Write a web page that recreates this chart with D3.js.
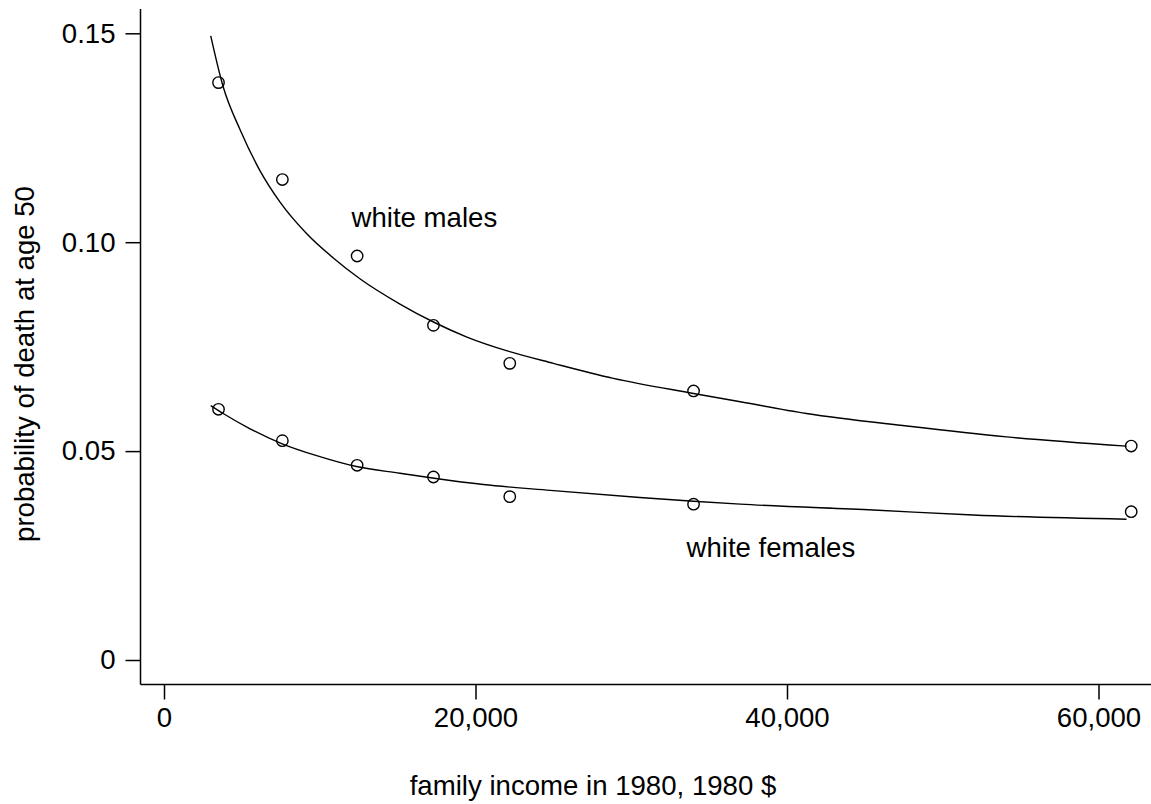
<!DOCTYPE html>
<html>
<head>
<meta charset="utf-8">
<script src="https://cdn.jsdelivr.net/npm/d3@7"></script>
<style>
  body { margin: 0; background: #fff; }
  text { font-family: "Liberation Sans", Arial, sans-serif; fill: #000; }
</style>
</head>
<body>
<div id="chart"></div>
<script>
// observed points (income group, probability of death at 50)
const income = [3500, 7600, 12400, 17300, 22200, 34000, 62100];
const males = [0.1382, 0.1150, 0.0967, 0.0801, 0.0710, 0.0644, 0.0512];
const females = [0.0600, 0.0525, 0.0466, 0.0438, 0.0391, 0.0373, 0.0355];

// fitted curves
const maleFitX = [3000, 3800, 4900, 6150, 7450, 9150, 10850, 12600, 15150, 17300, 19450, 22200, 25000, 28850, 34000, 37000, 41250, 47700, 54100, 61800];
const maleFitY = [0.1494, 0.1372, 0.1268, 0.1172, 0.1096, 0.1021, 0.0963, 0.0912, 0.0852, 0.0809, 0.0773, 0.0738, 0.0710, 0.0674, 0.0638, 0.0618, 0.0590, 0.0560, 0.0534, 0.0512];
const femaleFitX = [3000, 3800, 5500, 7550, 9800, 12350, 15150, 17350, 20500, 24800, 30550, 34000, 37000, 45550, 51950, 61800];
const femaleFitY = [0.0609, 0.0590, 0.0554, 0.0518, 0.0489, 0.0463, 0.0447, 0.0435, 0.0420, 0.0406, 0.0389, 0.0380, 0.0373, 0.0359, 0.0347, 0.0337];

const xTicks = [0, 20000, 40000, 60000];
const yTicks = [0, 0.05, 0.10, 0.15];

const W = 1151, H = 804;
const svg = d3.select("#chart").append("svg")
  .attr("width", W)
  .attr("height", H);

const x = d3.scaleLinear().domain([0, 60000]).range([164, 1098.5]);
const y = d3.scaleLinear().domain([0, 0.15]).range([660, 33.3]);

const axisLeftX = 140.5, axisBottomY = 684.5;
const fs = 27.6;

// axis frame lines
svg.append("line")
  .attr("x1", axisLeftX).attr("x2", axisLeftX)
  .attr("y1", 9).attr("y2", axisBottomY)
  .attr("stroke", "#000").attr("stroke-width", 1.5);
svg.append("line")
  .attr("x1", axisLeftX).attr("x2", W)
  .attr("y1", axisBottomY).attr("y2", axisBottomY)
  .attr("stroke", "#000").attr("stroke-width", 1.5);

const gx = svg.append("g")
  .attr("transform", `translate(0,${axisBottomY})`)
  .call(d3.axisBottom(x).tickValues(xTicks).tickSize(15).tickPadding(8)
    .tickFormat(d => d === 0 ? "0" : d3.format(",")(d)));
gx.select(".domain").remove();
gx.selectAll(".tick line").attr("stroke-width", 1.5);
gx.selectAll(".tick text").attr("font-size", fs).style("font-family", '"Liberation Sans", Arial, sans-serif');

const gy = svg.append("g")
  .attr("transform", `translate(${axisLeftX},0)`)
  .call(d3.axisLeft(y).tickValues(yTicks).tickSize(15).tickPadding(10)
    .tickFormat(d => d === 0 ? "0" : d3.format(".2f")(d)));
gy.select(".domain").remove();
gy.selectAll(".tick line").attr("stroke-width", 1.5);
gy.selectAll(".tick text").attr("font-size", fs).style("font-family", '"Liberation Sans", Arial, sans-serif');

// fitted lines
const line = d3.line()
  .x(d => x(d[0]))
  .y(d => y(d[1]))
  .curve(d3.curveMonotoneX);

svg.append("path")
  .datum(d3.zip(maleFitX, maleFitY))
  .attr("fill", "none").attr("stroke", "#000").attr("stroke-width", 1.4)
  .attr("d", line);
svg.append("path")
  .datum(d3.zip(femaleFitX, femaleFitY))
  .attr("fill", "none").attr("stroke", "#000").attr("stroke-width", 1.4)
  .attr("d", line);

// observed points
[males, females].forEach(series => {
  svg.append("g").selectAll("circle")
    .data(d3.zip(income, series))
    .enter().append("circle")
    .attr("cx", d => x(d[0]))
    .attr("cy", d => y(d[1]))
    .attr("r", 5.7)
    .attr("fill", "none")
    .attr("stroke", "#000")
    .attr("stroke-width", 1.4);
});

// labels
svg.append("text")
  .attr("x", 351.5).attr("y", 227)
  .attr("font-size", fs)
  .text("white males");
svg.append("text")
  .attr("x", 686.5).attr("y", 557)
  .attr("font-size", fs)
  .text("white females");

svg.append("text")
  .attr("x", 593).attr("y", 795)
  .attr("text-anchor", "middle")
  .attr("font-size", fs)
  .text("family income in 1980, 1980 $");

svg.append("text")
  .attr("transform", "translate(34,364) rotate(-90)")
  .attr("text-anchor", "middle")
  .attr("font-size", fs)
  .text("probability of death at age 50");
</script>
</body>
</html>
